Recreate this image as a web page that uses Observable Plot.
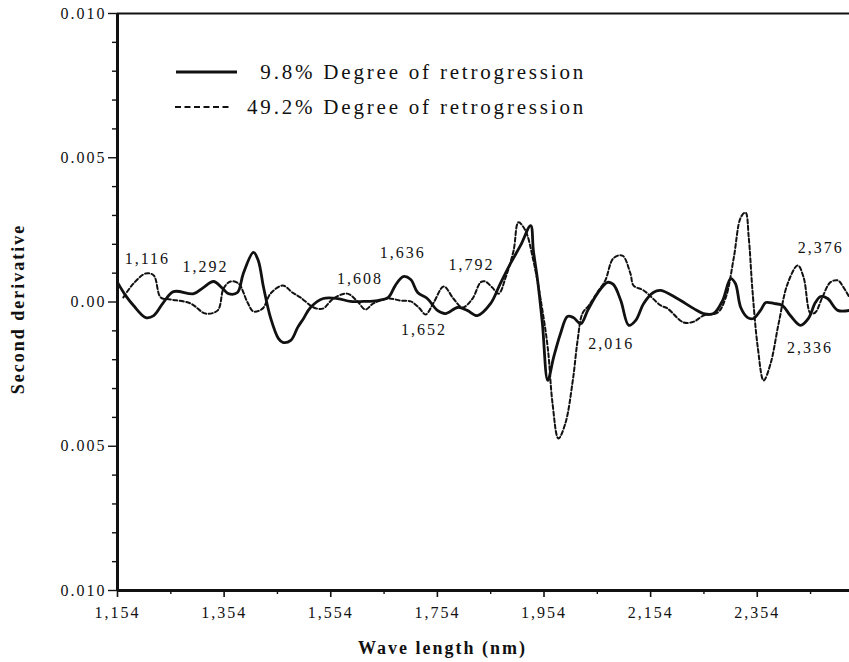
<!DOCTYPE html>
<html>
<head>
<meta charset="utf-8">
<script src="https://cdn.jsdelivr.net/npm/d3@7"></script>
<script src="https://cdn.jsdelivr.net/npm/@observablehq/plot@0.6"></script>
<style>
  body { margin: 0; background: #fff; }
  #chart { position: relative; width: 849px; height: 662px; }
</style>
</head>
<body>
<div id="chart"></div>
<script>
// Second-derivative NIR spectra for two degrees of retrogression
const solidNm = [1154,1169,1184,1207,1222,1240,1259,1297,1315,1334,1351,1362,1379,1390,1409,1418,1428,1441,1456,1464,1479,1492,1503,1516,1540,1567,1591,1615,1642,1662,1675,1690,1704,1717,1735,1754,1769,1792,1810,1829,1854,1872,1891,1910,1929,1934,1942,1951,1961,1972,1985,1998,2009,2023,2036,2054,2073,2084,2098,2113,2126,2141,2159,2173,2204,2235,2253,2272,2289,2304,2313,2323,2336,2347,2360,2370,2385,2401,2416,2435,2450,2463,2473,2486,2505,2527];
const solidVal = [0.00068,0.00023,-0.00012,-0.00054,-0.00047,-0.00002,0.00036,0.00029,0.00050,0.00071,0.00047,0.00029,0.00033,0.00099,0.00172,0.00144,0.00050,-0.00054,-0.00127,-0.00140,-0.00133,-0.00088,-0.00057,-0.00019,0.00012,0.00012,0.00002,0.00002,0.00005,0.00016,0.00057,0.00088,0.00078,0.00033,0.00012,-0.00029,-0.00040,-0.00019,-0.00029,-0.00047,-0.00005,0.00064,0.00133,0.00196,0.00265,0.00179,0.00075,-0.00075,-0.00272,-0.00192,-0.00109,-0.00050,-0.00054,-0.00075,-0.00029,0.00029,0.00068,0.00061,0.00005,-0.00081,-0.00064,-0.00005,0.00033,0.00040,0.00012,-0.00023,-0.00040,-0.00040,0.00005,0.00081,0.00064,-0.00019,-0.00054,-0.00057,-0.00029,-0.00002,-0.00005,-0.00012,-0.00047,-0.00081,-0.00057,-0.00002,0.00019,0.00012,-0.00029,-0.00029];

const dashedNm = [1165,1184,1207,1222,1235,1253,1291,1319,1342,1353,1366,1381,1398,1409,1426,1441,1464,1482,1497,1522,1539,1559,1585,1604,1619,1634,1661,1685,1704,1719,1732,1747,1766,1784,1801,1820,1835,1844,1857,1869,1882,1897,1906,1919,1934,1948,1961,1970,1981,1994,2008,2017,2026,2038,2054,2069,2084,2101,2116,2122,2141,2173,2186,2216,2235,2253,2280,2295,2310,2323,2332,2338,2345,2355,2366,2379,2394,2411,2430,2441,2454,2463,2476,2491,2505,2516,2527];
const dashedVal = [0.00016,0.00064,0.00099,0.00092,0.00016,0.00009,-0.00005,-0.00040,-0.00029,0.00047,0.00071,0.00064,-0.00002,-0.00033,-0.00023,0.00029,0.00057,0.00033,0.00016,-0.00019,-0.00023,0.00012,0.00029,0.00002,-0.00026,-0.00005,0.00012,0.00005,0.00002,-0.00019,-0.00043,-0.00002,0.00054,0.00012,-0.00019,0.00012,0.00068,0.00071,0.00050,0.00029,0.00085,0.00179,0.00276,0.00248,0.00144,0.00005,-0.00158,-0.00352,-0.00473,-0.00421,-0.00272,-0.00133,-0.00040,-0.00012,0.00033,0.00075,0.00151,0.00161,0.00099,0.00057,0.00040,-0.00012,-0.00023,-0.00071,-0.00068,-0.00047,-0.00036,0.00016,0.00154,0.00293,0.00310,0.00224,0.00040,-0.00158,-0.00272,-0.00213,-0.00075,0.00064,0.00127,0.00085,-0.00040,-0.00036,0.00016,0.00068,0.00075,0.00050,0.00016];

// Band annotations (label text, anchor wavelength, anchor value)
const peakLabels = ["1,116","1,292","1,608","1,636","1,652","1,792","2,016","2,376","2,336"];
const peakNm     = [1210, 1319, 1609, 1689, 1729, 1818, 2080, 2473, 2453];
const peakVal    = [0.00151, 0.00121, 0.00079, 0.00172, -0.00098, 0.00127, -0.00144, 0.00186, -0.00160];

// Axis ticks
const xMajor = [1154, 1354, 1554, 1754, 1954, 2154, 2354];
const xMinor = [1254, 1454, 1654, 1854, 2054, 2254, 2454];
const yMajor = [-0.01, -0.005, 0, 0.005, 0.01];
const yMinor = [-0.009,-0.008,-0.007,-0.006,-0.004,-0.003,-0.002,-0.001,0.001,0.002,0.003,0.004,0.006,0.007,0.008,0.009];

const seriesNames = ["9.8% Degree of retrogression", "49.2% Degree of retrogression"];

const solid = solidNm.map((nm, i) => ({nm, v: solidVal[i]}));
const dashed = dashedNm.map((nm, i) => ({nm, v: dashedVal[i]}));
const peaks = peakLabels.map((label, i) => ({label, nm: peakNm[i], v: peakVal[i]}));

const serif = "'Liberation Serif', 'Times New Roman', serif";
const fmtY = d => d === 0 ? "0.00" : Math.abs(d).toFixed(3);
const blank = () => "";

const svg = Plot.plot({
  width: 849,
  height: 662,
  marginLeft: 117,
  marginRight: 0,
  marginTop: 13,
  marginBottom: 72,
  style: {fontFamily: serif, fontSize: "16px", letterSpacing: "2px", color: "#111", background: "#fff", overflow: "visible"},
  x: {domain: [1154, 2527]},
  y: {domain: [-0.01, 0.01]},
  marks: [
    Plot.axisX({ticks: xMajor, tickSize: 7, tickPadding: 9, tickFormat: d3.format(","), label: null, strokeWidth: 1.6}),
    Plot.axisX({ticks: xMinor, tickSize: 4, tickFormat: blank, label: null, strokeWidth: 1.4}),
    Plot.axisY({ticks: yMajor, tickSize: 9, tickPadding: 2, tickFormat: fmtY, label: null, strokeWidth: 1.4}),
    Plot.axisY({ticks: yMinor, tickSize: 5, tickFormat: blank, label: null, strokeWidth: 1.4}),
    Plot.ruleX([1154], {strokeWidth: 3, stroke: "#111"}),
    Plot.ruleY([-0.01], {strokeWidth: 3, stroke: "#111"}),
    Plot.ruleY([0.01], {strokeWidth: 2.2, stroke: "#111"}),
    Plot.line(dashed, {x: "nm", y: "v", curve: "catmull-rom", stroke: "#111", strokeWidth: 2, strokeDasharray: "4,2.5"}),
    Plot.line(solid, {x: "nm", y: "v", curve: "catmull-rom", stroke: "#111", strokeWidth: 2.8}),
    Plot.text(peaks, {x: "nm", y: "v", text: "label", fill: "#111", fontSize: 16}),
    Plot.text(["Wave length (nm)"], {frameAnchor: "bottom", textAnchor: "middle", lineAnchor: "middle", dx: -41, dy: 58, fontWeight: "bold", fontSize: 18, fill: "#111"}),
    Plot.text(["Second derivative"], {frameAnchor: "left", textAnchor: "middle", lineAnchor: "middle", rotate: -90, dx: -99, dy: 7, fontWeight: "bold", fontSize: 18, fill: "#111"})
  ]
});

// Legend inside the plot area
const legend = d3.select(svg).append("g")
  .attr("font-family", serif)
  .attr("font-size", 21)
  .attr("fill", "#111");
const legendRows = [
  {name: seriesNames[0], y: 72, x1: 176, x2: 237, width: 2.8, dash: null},
  {name: seriesNames[1], y: 107, x1: 175, x2: 232, width: 2, dash: "6,3.5"}
];
legendRows.forEach(r => {
  legend.append("line")
    .attr("x1", r.x1).attr("x2", r.x2).attr("y1", r.y).attr("y2", r.y)
    .attr("stroke", "#111").attr("stroke-width", r.width)
    .attr("stroke-dasharray", r.dash);
  legend.append("text")
    .attr("x", 586).attr("y", r.y + 7)
    .attr("text-anchor", "end")
    .style("letter-spacing", "2.8px")
    .text(r.name);
});

document.getElementById("chart").appendChild(svg);
</script>
</body>
</html>
